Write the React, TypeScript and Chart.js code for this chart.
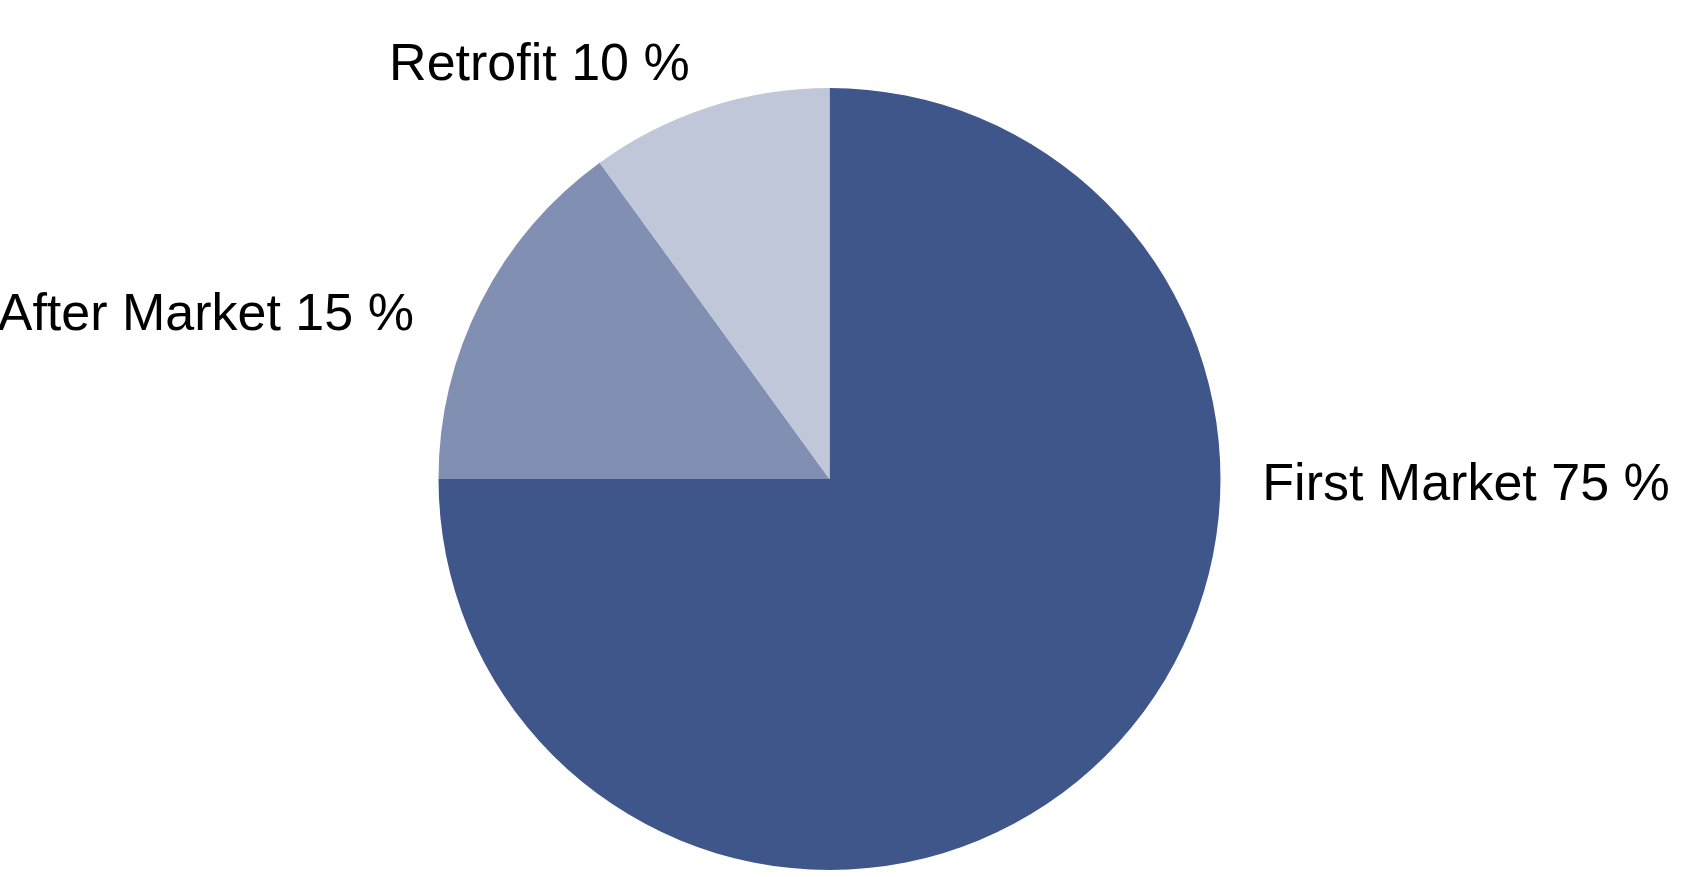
import React, { useEffect, useRef } from 'react';
import { Chart, registerables } from 'chart.js';
Chart.register(...registerables);

const segments = ['First Market', 'After Market', 'Retrofit'];
const shares = [75, 15, 10];
const colors = ['#3F568B', '#808FB2', '#C0C7D9'];

// label anchors, in multiples of the pie radius from its centre
const labelSpots = [
  { dx: 1.107, dy: 0.054, align: 'left' },
  { dx: -1.063, dy: -0.381, align: 'right' },
  { dx: -0.742, dy: -1.02, align: 'center' },
];

const sliceLabels = {
  id: 'sliceLabels',
  afterDatasetsDraw(chart: any) {
    const ctx = chart.ctx;
    const meta = chart.getDatasetMeta(0);
    ctx.save();
    ctx.font = '52px "Liberation Sans", Arial, sans-serif';
    ctx.fillStyle = '#000000';
    ctx.textBaseline = 'alphabetic';
    meta.data.forEach((arc: any, i: number) => {
      const spot = labelSpots[i];
      const r = arc.outerRadius;
      ctx.textAlign = spot.align;
      ctx.fillText(`${segments[i]} ${shares[i]} %`, arc.x + spot.dx * r, arc.y + spot.dy * r);
    });
    ctx.restore();
  },
};

const PieChart = () => {
  const chartRef = useRef(null);

  useEffect(() => {
    const ctx = (chartRef.current as HTMLCanvasElement).getContext('2d');
    const chart = new Chart(ctx, {
      type: 'pie',
      data: {
        labels: segments,
        datasets: [
          {
            data: shares,
            backgroundColor: colors,
            borderWidth: 0,
          },
        ],
      },
      options: {
        responsive: false,
        animation: false,
        layout: { padding: { left: 438, right: 465, top: 88, bottom: 7 } },
        plugins: {
          legend: { display: false },
          tooltip: { enabled: false },
        },
      },
      plugins: [sliceLabels],
    });

    return () => {
      chart.destroy();
    };
  }, []);

  return (
    <div style={{ position: 'fixed', left: 0, top: 0, width: 1686, height: 877, background: '#ffffff' }}>
      <canvas ref={chartRef} width={1686} height={877} style={{ width: 1686, height: 877 }}></canvas>
    </div>
  );
};

export default function App() {
  return <PieChart />;
}
